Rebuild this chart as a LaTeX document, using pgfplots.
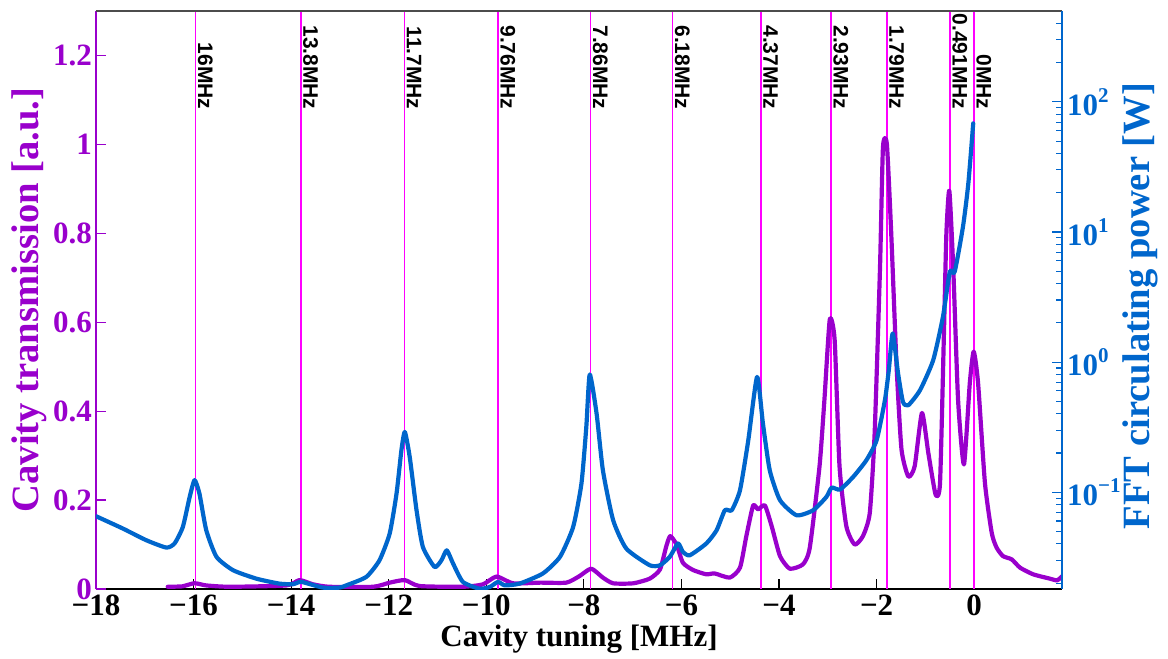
\documentclass[border=0pt]{standalone}
\usepackage{fontspec}
\setmainfont{Liberation Serif}
\newfontfamily\arialfont{Liberation Sans}
\usepackage{pgfplots}
\pgfplotsset{compat=1.18}
\usepackage{pgfplotstable}
\definecolor{tpurple}{RGB}{153,0,204}
\definecolor{fblue}{RGB}{0,102,204}
\definecolor{vmag}{RGB}{255,0,255}
\newcommand{\tkf}{\fontsize{31}{36}\selectfont\bfseries}
\newcommand{\lbf}{\fontsize{38.6}{44}\selectfont\bfseries}
\newcommand{\mhzf}{\arialfont\fontsize{21}{24}\selectfont\bfseries}
\newcommand{\sups}[1]{\raisebox{0.42em}{\fontsize{21}{24}\selectfont\bfseries #1}}

\pgfplotstableread{
x v
-16.53 0.005
-16.23 0.006
-15.98 0.013
-15.74 0.008
-15.26 0.005
-14.10 0.008
-13.83 0.020
-13.55 0.0105
-13.22 0.005
-12.32 0.005
-11.98 0.0143
-11.67 0.020
-11.37 0.0067
-10.48 0.005
-10.07 0.0105
-9.79 0.028
-9.45 0.0128
-8.90 0.0143
-8.36 0.0143
-8.09 0.029
-7.85 0.0457
-7.61 0.0256
-7.40 0.0128
-6.99 0.0128
-6.65 0.0233
-6.44 0.044
-6.31 0.0964
-6.23 0.119
-6.10 0.100
-5.97 0.059
-5.76 0.0426
-5.49 0.033
-5.32 0.035
-5.01 0.0256
-4.80 0.048
-4.67 0.119
-4.53 0.188
-4.43 0.179
-4.29 0.188
-4.15 0.141
-3.98 0.074
-3.78 0.0457
-3.51 0.0554
-3.37 0.0928
-3.17 0.276
-3.07 0.425
-2.96 0.606
-2.86 0.560
-2.76 0.276
-2.62 0.141
-2.45 0.100
-2.28 0.119
-2.14 0.171
-2.04 0.351
-1.93 0.724
-1.87 0.993
-1.79 1.001
-1.70 0.799
-1.59 0.500
-1.49 0.314
-1.35 0.253
-1.22 0.276
-1.07 0.396
-0.94 0.306
-0.79 0.212
-0.70 0.239
-0.62 0.575
-0.57 0.799
-0.51 0.896
-0.43 0.724
-0.33 0.425
-0.21 0.280
-0.09 0.463
-0.01 0.534
0.08 0.463
0.22 0.239
0.36 0.126
0.46 0.093
0.59 0.074
0.77 0.0666
0.94 0.048
1.21 0.033
1.55 0.0233
1.70 0.0195
1.80 0.0285
}\trans

\pgfplotstableread{
x v
-18.00 0.0653
-17.45 0.0525
-16.97 0.0427
-16.56 0.0375
-16.39 0.0403
-16.22 0.054
-16.08 0.0918
-15.98 0.1236
-15.88 0.0975
-15.74 0.0509
-15.53 0.0318
-15.19 0.0251
-14.71 0.0216
-14.24 0.0198
-13.96 0.0196
-13.79 0.0204
-13.35 0.01845
-13.01 0.01845
-12.87 0.0192
-12.46 0.0223
-12.19 0.0299
-11.98 0.0481
-11.84 0.0975
-11.74 0.210
-11.67 0.290
-11.57 0.1866
-11.43 0.0726
-11.30 0.0379
-11.06 0.0266
-10.92 0.0299
-10.81 0.0357
-10.68 0.0282
-10.48 0.0204
-10.14 0.0181
-9.93 0.01866
-9.76 0.0204
-9.62 0.0192
-9.32 0.0198
-8.84 0.0237
-8.49 0.0318
-8.22 0.054
-8.05 0.1164
-7.95 0.318
-7.88 0.803
-7.74 0.403
-7.61 0.147
-7.40 0.0608
-7.13 0.0368
-6.65 0.0274
-6.44 0.0274
-6.24 0.0318
-6.07 0.0403
-5.97 0.0347
-5.83 0.0327
-5.49 0.0403
-5.28 0.0509
-5.11 0.0726
-4.97 0.0726
-4.80 0.1035
-4.63 0.2506
-4.45 0.769
-4.33 0.337
-4.19 0.147
-3.98 0.0867
-3.64 0.0664
-3.30 0.0726
-3.03 0.0918
-2.92 0.1084
-2.75 0.1047
-2.48 0.131
-2.21 0.176
-2.00 0.2506
-1.83 0.509
-1.75 0.867
-1.67 1.66
-1.56 0.817
-1.46 0.494
-1.35 0.466
-1.11 0.608
-0.84 1.035
-0.64 2.23
-0.50 4.94
-0.40 4.94
-0.23 10.96
-0.12 23.6
-0.02 68.4
}\fft

\begin{document}
\begin{tikzpicture}
% x axis
\begin{axis}[
  at={(0,0)}, anchor=south west, scale only axis,
  width=966pt, height=578pt,
  xmin=-18, xmax=1.8, ymin=0, ymax=1.3,
  axis x line*=bottom, axis y line=none,
  x axis line style={black, line width=1.6pt},
  xtick={-18,-16,-14,-12,-10,-8,-6,-4,-2,0},
  xticklabels={−18,−16,−14,−12,−10,−8,−6,−4,−2,0},
  tick align=inside, major tick length=10pt,
  tick style={black, line width=1.2pt},
  xticklabel style={font=\tkf, black, inner sep=0pt, yshift=-6pt},
  xlabel={Cavity tuning [MHz]},
  xlabel style={font=\tkf, black, at={(axis description cs:0.5,-0.1003)}, anchor=base},
]
\end{axis}
% left axis
\begin{axis}[
  at={(0,0)}, anchor=south west, scale only axis,
  width=966pt, height=578pt,
  xmin=-18, xmax=1.8, ymin=0, ymax=1.3,
  axis y line*=left, axis x line=none,
  y axis line style={tpurple, line width=1.4pt},
  ytick={0,0.2,0.4,0.6,0.8,1,1.2},
  yticklabels={0,0.2,0.4,0.6,0.8,1,1.2},
  tick align=inside, major tick length=10pt,
  tick style={tpurple, line width=1.2pt},
  yticklabel style={font=\tkf, tpurple, inner sep=0pt, xshift=-4pt},
  ylabel={Cavity transmission [a.u.]},
  ylabel style={font=\lbf, tpurple, at={(axis description cs:-0.06,0.5)}, anchor=base},
]
\addplot[vmag, line width=1.5pt, forget plot] coordinates {(-15.96,0) (-15.96,1.3)};
\addplot[vmag, line width=1.5pt, forget plot] coordinates {(-13.8,0) (-13.8,1.3)};
\addplot[vmag, line width=1.5pt, forget plot] coordinates {(-11.68,0) (-11.68,1.3)};
\addplot[vmag, line width=1.5pt, forget plot] coordinates {(-9.76,0) (-9.76,1.3)};
\addplot[vmag, line width=1.5pt, forget plot] coordinates {(-7.86,0) (-7.86,1.3)};
\addplot[vmag, line width=1.5pt, forget plot] coordinates {(-6.18,0) (-6.18,1.3)};
\addplot[vmag, line width=1.5pt, forget plot] coordinates {(-4.37,0) (-4.37,1.3)};
\addplot[vmag, line width=1.5pt, forget plot] coordinates {(-2.93,0) (-2.93,1.3)};
\addplot[vmag, line width=1.5pt, forget plot] coordinates {(-1.79,0) (-1.79,1.3)};
\addplot[vmag, line width=1.5pt, forget plot] coordinates {(-0.491,0) (-0.491,1.3)};
\addplot[vmag, line width=1.5pt, forget plot] coordinates {(0,0) (0,1.3)};
\node[font=\mhzf, rotate=-90, anchor=base east, inner sep=0pt] at ([xshift=2.5pt]axis cs:-15.96,1.078) {16MHz};
\node[font=\mhzf, rotate=-90, anchor=base east, inner sep=0pt] at ([xshift=2.5pt]axis cs:-13.8,1.078) {13.8MHz};
\node[font=\mhzf, rotate=-90, anchor=base east, inner sep=0pt] at ([xshift=2.5pt]axis cs:-11.68,1.078) {11.7MHz};
\node[font=\mhzf, rotate=-90, anchor=base east, inner sep=0pt] at ([xshift=2.5pt]axis cs:-9.76,1.078) {9.76MHz};
\node[font=\mhzf, rotate=-90, anchor=base east, inner sep=0pt] at ([xshift=2.5pt]axis cs:-7.86,1.078) {7.86MHz};
\node[font=\mhzf, rotate=-90, anchor=base east, inner sep=0pt] at ([xshift=2.5pt]axis cs:-6.18,1.078) {6.18MHz};
\node[font=\mhzf, rotate=-90, anchor=base east, inner sep=0pt] at ([xshift=2.5pt]axis cs:-4.37,1.078) {4.37MHz};
\node[font=\mhzf, rotate=-90, anchor=base east, inner sep=0pt] at ([xshift=2.5pt]axis cs:-2.93,1.078) {2.93MHz};
\node[font=\mhzf, rotate=-90, anchor=base east, inner sep=0pt] at ([xshift=2.5pt]axis cs:-1.79,1.078) {1.79MHz};
\node[font=\mhzf, rotate=-90, anchor=base east, inner sep=0pt] at ([xshift=2.5pt]axis cs:-0.491,1.078) {0.491MHz};
\node[font=\mhzf, rotate=-90, anchor=base east, inner sep=0pt] at ([xshift=2.5pt]axis cs:0,1.078) {0MHz};
\addplot[tpurple, line width=4.2pt, line join=round, line cap=round, smooth, tension=0.35] table[x=x, y=v] {\trans};
\draw[line width=1.6pt, black!70] (rel axis cs:0,1) -- (rel axis cs:1,1);
\end{axis}
% right axis
\begin{axis}[
  at={(0,0)}, anchor=south west, scale only axis,
  width=966pt, height=578pt,
  xmin=-18, xmax=1.8, ymode=log, ymin=0.018, ymax=500,
  axis y line*=right, axis x line=none,
  y axis line style={fblue, line width=1.4pt},
  ytick={0.1,1,10,100},
  yticklabels={10\sups{−1},10\sups{0},10\sups{1},10\sups{2}},
  minor ytick={0.02,0.03,0.04,0.05,0.06,0.07,0.08,0.09,0.2,0.3,0.4,0.5,0.6,0.7,0.8,0.9,2,3,4,5,6,7,8,9,20,30,40,50,60,70,80,90,200,300,400},
  tick align=inside, major tick length=10pt, minor tick length=6pt,
  tick style={fblue, line width=1.1pt},
  yticklabel style={font=\tkf, fblue, inner sep=0pt, xshift=5pt},
  ylabel={FFT circulating power [W]},
  ylabel style={font=\lbf, fblue, at={(axis description cs:1.0901,0.4896)}, anchor=base},
]
\addplot[fblue, line width=4.2pt, line join=round, line cap=round, smooth, tension=0.35] table[x=x, y=v] {\fft};
\end{axis}
\pgfresetboundingbox
\path[use as bounding box] (-96pt,-70pt) rectangle (1072pt,589pt);
\end{tikzpicture}
\end{document}
